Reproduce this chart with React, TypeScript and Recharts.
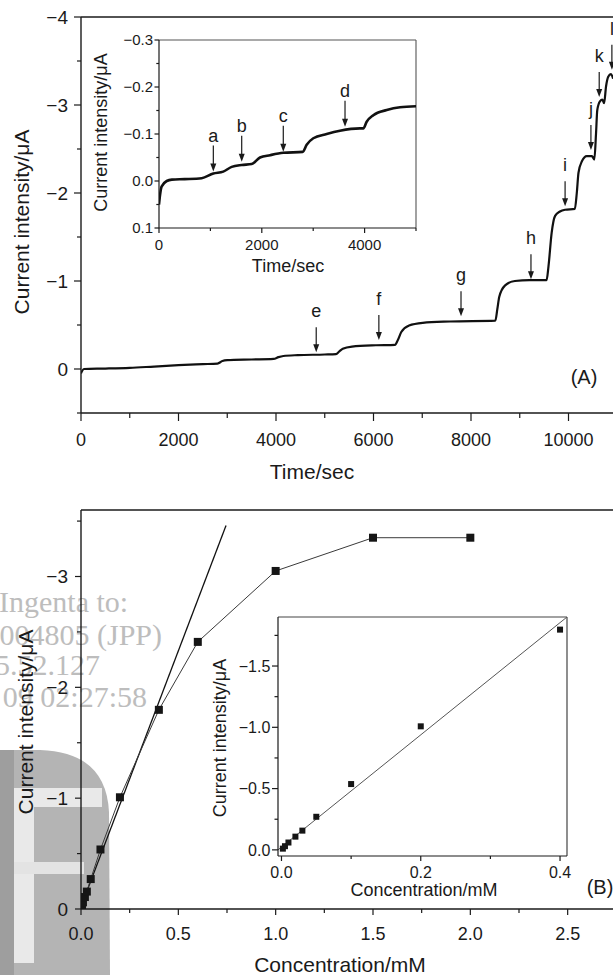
import React from 'react';
import { ComposedChart, Line, XAxis, YAxis, ReferenceLine, ReferenceDot, Label } from 'recharts';

// (A) amperometric trace, time in s, current in µA
const timeA = [0, 60, 500, 1000, 1500, 2000, 2500, 2800, 2900, 3000, 3500, 3950, 4050, 4150, 4450, 5000, 5230, 5300, 5370, 5560, 6050, 6440, 6500, 6570, 6730, 7010, 7570, 8500, 8540, 8580, 8700, 8900, 9200, 9550, 9590, 9655, 9725, 9825, 9930, 10130, 10170, 10205, 10275, 10375, 10480, 10530, 10565, 10590, 10645, 10695, 10730, 10770, 10815, 10870, 10915];
const currentA = [0.05, 0, -0.005, -0.013, -0.028, -0.043, -0.055, -0.062, -0.09, -0.1, -0.108, -0.115, -0.135, -0.148, -0.158, -0.165, -0.17, -0.2, -0.23, -0.255, -0.27, -0.275, -0.33, -0.42, -0.495, -0.525, -0.54, -0.55, -0.68, -0.82, -0.95, -1.0, -1.01, -1.01, -1.17, -1.55, -1.74, -1.79, -1.81, -1.82, -2.0, -2.23, -2.36, -2.42, -2.42, -2.38, -2.68, -2.94, -3.04, -3.06, -3.02, -3.21, -3.32, -3.35, -3.3];

// (A) inset, first 5000 s
const timeInset = [0, 20, 50, 150, 250, 500, 830, 1057, 1250, 1414, 1609, 1803, 1965, 2160, 2418, 2795, 2873, 3002, 3262, 3521, 3910, 3975, 4040, 4170, 4430, 4690, 5000];
const currentInset = [0.05, 0.03, 0.012, 0, -0.003, -0.004, -0.006, -0.016, -0.02, -0.03, -0.034, -0.036, -0.05, -0.055, -0.06, -0.062, -0.077, -0.091, -0.1, -0.107, -0.112, -0.112, -0.126, -0.14, -0.151, -0.157, -0.159];

// addition arrows
const arrowLabelsA = ['e', 'f', 'g', 'h', 'i', 'j', 'k', 'l'];
const arrowTimesA = [4825, 6110, 7795, 9230, 9930, 10460, 10630, 10890];
const arrowTipsA = [-0.19, -0.33, -0.6, -1.02, -1.85, -2.49, -3.09, -3.4];
const arrowLabelsInset = ['a', 'b', 'c', 'd'];
const arrowTimesInset = [1057, 1609, 2418, 3619];
const arrowTipsInset = [-0.02, -0.041, -0.062, -0.1155];

// (B) calibration
const concB = [0.002, 0.005, 0.01, 0.02, 0.03, 0.05, 0.1, 0.2, 0.4, 0.6, 1.0, 1.5, 2.0];
const currentB = [-0.01, -0.03, -0.06, -0.108, -0.157, -0.27, -0.537, -1.008, -1.797, -2.41, -3.05, -3.35, -3.35];
const fitConcB = [0, 0.745];
const fitCurrentB = [-0.02, -3.46];
const fitConcInset = [-0.005, 0.41];
const fitCurrentInset = [0.0, -1.9];

const FONT = '"Liberation Sans", Arial, Helvetica, sans-serif';
const INK = '#1a1a1a';

const near = (list: number[], v: number) => list.some((m) => Math.abs(m - v) < 1e-9);
const minus = (s: string) => s.replace('-', '\u2212');
const fmtInt = (v: number) => minus(String(v));
const fmt1 = (v: number) => minus(v.toFixed(1));

interface TickStyle {
  majors: number[];
  fmt: (v: number) => string;
  major: number;
  minor: number;
  gap: number;
  size: number;
}

const bottomTick = (s: TickStyle) => (p: any) => {
  const { x, y, payload } = p;
  const big = near(s.majors, payload.value);
  return (
    <g>
      <line x1={x} x2={x} y1={y} y2={y + (big ? s.major : s.minor)} stroke={INK} strokeWidth={1.2} />
      {big && (
        <text x={x} y={y + s.major + s.gap} dy="0.72em" textAnchor="middle" fontSize={s.size} fill={INK}>
          {s.fmt(payload.value)}
        </text>
      )}
    </g>
  );
};

const leftTick = (s: TickStyle) => (p: any) => {
  const { x, y, payload } = p;
  const big = near(s.majors, payload.value);
  return (
    <g>
      <line x1={x - (big ? s.major : s.minor)} x2={x} y1={y} y2={y} stroke={INK} strokeWidth={1.2} />
      {big && (
        <text x={x - s.major - s.gap} y={y} dy="0.36em" textAnchor="end" fontSize={s.size} fill={INK}>
          {s.fmt(payload.value)}
        </text>
      )}
    </g>
  );
};

const title = (x: number, y: number, text: string, size: number, vertical = false) => () => (
  <text
    x={x}
    y={y}
    dy="0.36em"
    textAnchor="middle"
    fontSize={size}
    fill={INK}
    transform={vertical ? `rotate(-90 ${x} ${y})` : undefined}
  >
    {text}
  </text>
);

const arrow = (label: string, len: number, textGap: number) => (p: any) => {
  const { cx, cy } = p;
  return (
    <g>
      <line x1={cx} x2={cx} y1={cy - len} y2={cy - 6} stroke={INK} strokeWidth={1.2} />
      <polygon points={`${cx},${cy} ${cx - 3},${cy - 8} ${cx + 3},${cy - 8}`} fill={INK} />
      <text x={cx} y={cy - textGap} textAnchor="middle" fontSize={18} fill={INK}>
        {label}
      </text>
    </g>
  );
};

const square = (size: number) => (p: any) => (
  <rect key={p.index} x={p.cx - size / 2} y={p.cy - size / 2} width={size} height={size} fill="#151515" />
);

const traceA = timeA.map((t, i) => ({ t, v: currentA[i] }));
const traceInset = timeInset.map((t, i) => ({ t, v: currentInset[i] }));
const pointsB = concB.map((c, i) => ({ c, v: currentB[i] }));
const pointsInset = pointsB.filter((d) => d.c <= 0.4);
const fitB = fitConcB.map((c, i) => ({ c, v: fitCurrentB[i] }));
const fitInset = fitConcInset.map((c, i) => ({ c, v: fitCurrentInset[i] }));

const axisLine = { stroke: INK, strokeWidth: 1.4 };

export default function App() {
  return (
    <div
      style={{
        position: 'absolute',
        left: 0,
        top: 0,
        width: 613,
        height: 975,
        overflow: 'hidden',
        background: '#fff',
        fontFamily: FONT,
      }}
    >
      <svg width={613} height={975} style={{ position: 'absolute', left: 0, top: 0 }}>
        <path d="M0,750 L40,750 Q106,752 109,812 L110,975 L0,975 Z" fill="#b4b4b4" />
        <rect x={0} y={750} width={14} height={225} fill="#9e9e9e" />
        <rect x={14} y={788} width={88} height={19} fill="#e9e9e9" />
        <rect x={14} y={788} width={20} height={175} fill="#e9e9e9" />
        <rect x={14} y={862} width={70} height={12} fill="#e3e3e3" />
        <g fontFamily='"Liberation Serif", "Times New Roman", serif' fontSize={30} fill="#bdbdbd">
          <text x={-1} y={612}>Ingenta to:</text>
          <text x={162} y={645} textAnchor="end">004805 (JPP)</text>
          <text x={100} y={675} textAnchor="end">5.52.127</text>
          <text x={147} y={707} textAnchor="end">09 02:27:58</text>
        </g>
        <text x={584} y={377} dy="0.36em" textAnchor="middle" fontSize={20} fill={INK}>(A)</text>
        <text x={600} y={887} dy="0.36em" textAnchor="middle" fontSize={20} fill={INK}>(B)</text>
      </svg>

      {/* (A) main trace */}
      <div style={{ position: 'absolute', left: 0, top: 0 }}>
        <ComposedChart width={666} height={500} margin={{ top: 17, right: 0, bottom: 0, left: 0 }}>
          <XAxis
            dataKey="t"
            type="number"
            domain={[0, 12000]}
            allowDataOverflow
            ticks={[0, 1000, 2000, 3000, 4000, 5000, 6000, 7000, 8000, 9000, 10000, 11000]}
            interval={0}
            height={87}
            tickSize={0}
            tickMargin={0}
            tickLine={false}
            axisLine={axisLine}
            tick={bottomTick({ majors: [0, 2000, 4000, 6000, 8000, 10000], fmt: fmtInt, major: 8, minor: 5, gap: 12, size: 18 })}
          >
            <Label content={title(312, 471, 'Time/sec', 21)} />
          </XAxis>
          <YAxis
            type="number"
            domain={[-4, 0.5]}
            reversed
            allowDataOverflow
            ticks={[-4, -3.5, -3, -2.5, -2, -1.5, -1, -0.5, 0, 0.5]}
            interval={0}
            width={81}
            tickSize={0}
            tickMargin={0}
            tickLine={false}
            axisLine={axisLine}
            tick={leftTick({ majors: [-4, -3, -2, -1, 0], fmt: fmtInt, major: 7, minor: 4, gap: 6, size: 19 })}
          >
            <Label content={title(21, 222, 'Current intensity/\u03bcA', 21, true)} />
          </YAxis>
          <ReferenceLine y={-4} stroke={INK} strokeWidth={1.4} />
          <Line
            data={traceA}
            dataKey="v"
            type="monotone"
            stroke="#111"
            strokeWidth={2.2}
            dot={false}
            isAnimationActive={false}
          />
          {arrowLabelsA.map((label, i) => (
            <ReferenceDot
              key={label}
              x={arrowTimesA[i]}
              y={arrowTipsA[i]}
              ifOverflow="visible"
              shape={arrow(label, 25, 35)}
            />
          ))}
        </ComposedChart>
      </div>

      {/* (A) inset */}
      <div style={{ position: 'absolute', left: 0, top: 0 }}>
        <ComposedChart width={440} height={280} margin={{ top: 40, right: 24, bottom: 0, left: 0 }}>
          <XAxis
            dataKey="t"
            type="number"
            domain={[0, 5000]}
            allowDataOverflow
            ticks={[0, 1000, 2000, 3000, 4000, 5000]}
            interval={0}
            height={52}
            tickSize={0}
            tickMargin={0}
            tickLine={false}
            axisLine={{ stroke: INK, strokeWidth: 1.2 }}
            tick={bottomTick({ majors: [0, 2000, 4000], fmt: fmtInt, major: 5, minor: 3, gap: 6, size: 15 })}
          >
            <Label content={title(288, 266, 'Time/sec', 18)} />
          </XAxis>
          <YAxis
            type="number"
            domain={[-0.3, 0.1]}
            reversed
            allowDataOverflow
            ticks={[-0.3, -0.25, -0.2, -0.15, -0.1, -0.05, 0, 0.05, 0.1]}
            interval={0}
            width={159}
            tickSize={0}
            tickMargin={0}
            tickLine={false}
            axisLine={{ stroke: INK, strokeWidth: 1.2 }}
            tick={leftTick({ majors: [-0.3, -0.2, -0.1, 0, 0.1], fmt: fmt1, major: 4.5, minor: 2.7, gap: 1.5, size: 15 })}
          >
            <Label content={title(100.5, 132.5, 'Current intensity/\u03bcA', 18, true)} />
          </YAxis>
          <ReferenceLine y={-0.3} stroke="#555" strokeWidth={1.1} />
          <ReferenceLine x={5000} stroke="#555" strokeWidth={1.1} />
          <Line
            data={traceInset}
            dataKey="v"
            type="monotone"
            stroke="#111"
            strokeWidth={2.6}
            dot={false}
            isAnimationActive={false}
          />
          {arrowLabelsInset.map((label, i) => (
            <ReferenceDot
              key={label}
              x={arrowTimesInset[i]}
              y={arrowTipsInset[i]}
              ifOverflow="visible"
              shape={arrow(label, 26, 30)}
            />
          ))}
        </ComposedChart>
      </div>

      {/* (B) calibration */}
      <div style={{ position: 'absolute', left: 0, top: 500 }}>
        <ComposedChart width={665} height={475} margin={{ top: 10, right: 0, bottom: 0, left: 0 }}>
          <XAxis
            dataKey="c"
            type="number"
            domain={[0, 3]}
            allowDataOverflow
            ticks={[0, 0.25, 0.5, 0.75, 1, 1.25, 1.5, 1.75, 2, 2.25, 2.5, 2.75]}
            interval={0}
            height={66}
            tickSize={0}
            tickMargin={0}
            tickLine={false}
            axisLine={axisLine}
            tick={bottomTick({ majors: [0, 0.5, 1, 1.5, 2, 2.5], fmt: fmt1, major: 6, minor: 4, gap: 12, size: 18 })}
          >
            <Label content={title(340, 464, 'Concentration/mM', 21)} />
          </XAxis>
          <YAxis
            type="number"
            domain={[-3.6, 0]}
            reversed
            allowDataOverflow
            ticks={[-3.5, -3, -2.5, -2, -1.5, -1, -0.5, 0]}
            interval={0}
            width={81}
            tickSize={0}
            tickMargin={0}
            tickLine={false}
            axisLine={axisLine}
            tick={leftTick({ majors: [-3, -2, -1, 0], fmt: fmtInt, major: 6, minor: 4, gap: 7, size: 19 })}
          >
            <Label content={title(25, 222, 'Current intensity/\u03bcA', 21, true)} />
          </YAxis>
          <ReferenceLine y={-3.6} stroke={INK} strokeWidth={1.4} />
          <Line data={fitB} dataKey="v" type="linear" stroke="#111" strokeWidth={1.3} dot={false} isAnimationActive={false} />
          <Line
            data={pointsB}
            dataKey="v"
            type="linear"
            stroke="#3a3a3a"
            strokeWidth={1}
            dot={square(8)}
            isAnimationActive={false}
          />
        </ComposedChart>
      </div>

      {/* (B) inset */}
      <div style={{ position: 'absolute', left: 0, top: 600 }}>
        <ComposedChart width={600} height={300} margin={{ top: 17, right: 33, bottom: 0, left: 0 }}>
          <XAxis
            dataKey="c"
            type="number"
            domain={[-0.005, 0.41]}
            allowDataOverflow
            ticks={[0, 0.1, 0.2, 0.3, 0.4]}
            interval={0}
            height={44}
            tickSize={0}
            tickMargin={0}
            tickLine={false}
            axisLine={{ stroke: INK, strokeWidth: 1.2 }}
            tick={bottomTick({ majors: [0, 0.2, 0.4], fmt: fmt1, major: 5, minor: 3, gap: 5, size: 16 })}
          >
            <Label content={title(424, 290, 'Concentration/mM', 18)} />
          </XAxis>
          <YAxis
            type="number"
            domain={[-1.9, 0.05]}
            reversed
            allowDataOverflow
            ticks={[-1.75, -1.5, -1.25, -1, -0.75, -0.5, -0.25, 0]}
            interval={0}
            width={278}
            tickSize={0}
            tickMargin={0}
            tickLine={false}
            axisLine={{ stroke: INK, strokeWidth: 1.2 }}
            tick={leftTick({ majors: [-1.5, -1, -0.5, 0], fmt: fmt1, major: 6, minor: 3.5, gap: 1.7, size: 16 })}
          >
            <Label content={title(219.5, 138, 'Current intensity/\u03bcA', 18, true)} />
          </YAxis>
          <ReferenceLine y={-1.9} stroke="#444" strokeWidth={1.2} />
          <ReferenceLine x={0.41} stroke="#444" strokeWidth={1.2} />
          <Line data={fitInset} dataKey="v" type="linear" stroke="#555" strokeWidth={1} dot={false} isAnimationActive={false} />
          <Line
            data={pointsInset}
            dataKey="v"
            type="linear"
            stroke="none"
            dot={square(6)}
            isAnimationActive={false}
          />
        </ComposedChart>
      </div>
    </div>
  );
}
